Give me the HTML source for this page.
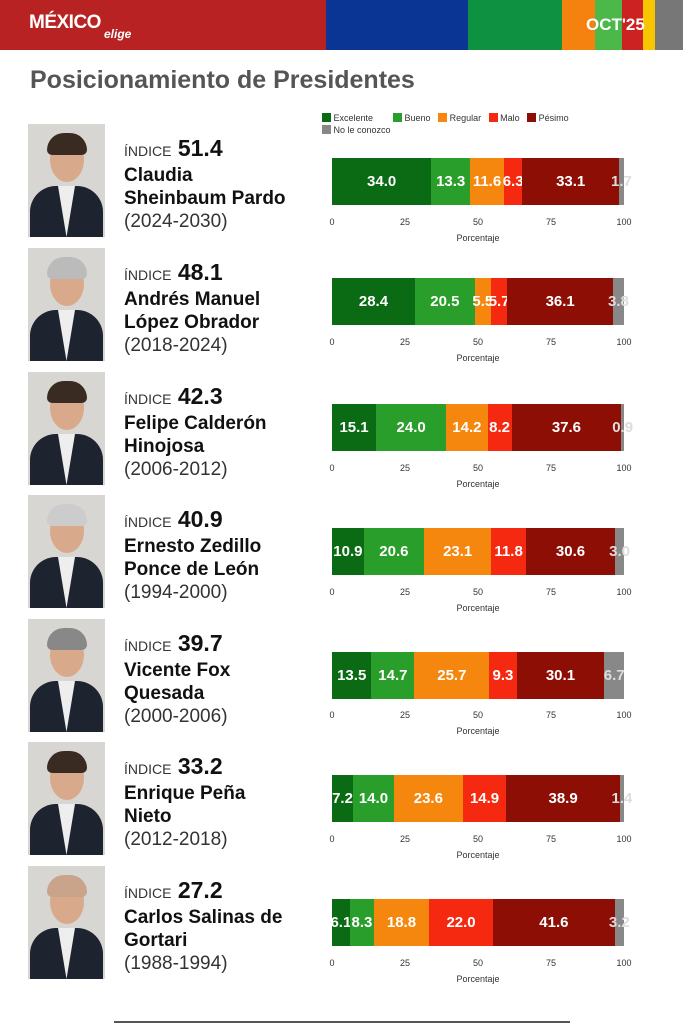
<!DOCTYPE html>
<html><head><meta charset="utf-8"><style>
*{margin:0;padding:0;box-sizing:border-box}
body{width:683px;height:1024px;background:#fff;font-family:"Liberation Sans",sans-serif;position:relative;overflow:hidden}
.hd{position:absolute;top:0;height:50px}
.row{position:absolute;left:0;width:683px;height:120px}
.ph{position:absolute;left:28px;top:0;width:77px;height:113px;background:#d8d6d2;overflow:hidden}
.ph .face{position:absolute;left:22px;top:14px;width:34px;height:44px;border-radius:50%;background:#d9a98c}
.ph .hair{position:absolute;left:19px;top:9px;width:40px;height:22px;border-radius:20px 20px 6px 6px;background:#3a2b22}
.ph .body{position:absolute;left:2px;top:62px;width:73px;height:60px;border-radius:26px 26px 0 0;background:#1e2330}
.ph .shirt{position:absolute;left:30px;top:62px;width:17px;height:51px;background:#eee;clip-path:polygon(0 0,100% 0,50% 100%)}
.tx{position:absolute;left:124px;top:12px;color:#111;font-weight:bold;font-size:19px;line-height:23px}
.tx .ix{font-size:23px;line-height:25px}
.tx .ix span{font-size:14px;font-weight:normal;color:#333}
.tx .yr{font-weight:normal;color:#333}
.bar{position:absolute;left:332px;width:292px;height:47px;display:flex}
.bar div{height:47px;display:flex;align-items:center;justify-content:center;color:#fff;font-weight:bold;font-size:15px;white-space:nowrap;overflow:visible}
.E{background:#0b6b14}.B{background:#2a9e2a}.R{background:#f5870f}.M{background:#f5290f}.P{background:#8c0e05}.N{background:#888;color:#ddd!important}
.ax{position:absolute;left:332px;width:292px;font-size:9px;color:#333}
.ax span{position:absolute;transform:translateX(-50%)}
.ax .pl{left:146px;top:16px}
</style></head><body>
<div class="hd" style="left:0;width:326px;background:#b82222"></div>
<div class="hd" style="left:326px;width:142px;background:#0a3594"></div>
<div class="hd" style="left:468px;width:94px;background:#0e9140"></div>
<div class="hd" style="left:562px;width:33px;background:#f5820e"></div>
<div class="hd" style="left:595px;width:27px;background:#4cb84a"></div>
<div class="hd" style="left:622px;width:21px;background:#cc2222"></div>
<div class="hd" style="left:643px;width:12px;background:#f7c600"></div>
<div class="hd" style="left:655px;width:28px;background:#777"></div>
<div style="position:absolute;left:29px;top:12px;color:#fff;font-weight:bold;font-size:19px;letter-spacing:-0.5px">MÉXICO</div>
<div style="position:absolute;left:104px;top:27px;color:#fff;font-style:italic;font-weight:bold;font-size:12px">elige</div>
<div style="position:absolute;left:586px;top:15px;color:#fff;font-weight:bold;font-size:17px">OCT'25</div>
<div style="position:absolute;left:30px;top:66px;color:#555;font-weight:bold;font-size:25px">Posicionamiento de Presidentes</div>

<div style="position:absolute;left:322px;top:112px;font-size:9px;color:#333;line-height:12px">
<span style="display:inline-block;width:9px;height:9px;background:#0b6b14;vertical-align:-1px"></span> Excelente &nbsp;&nbsp;&nbsp;&nbsp;&nbsp;&nbsp;
<span style="display:inline-block;width:9px;height:9px;background:#2a9e2a;vertical-align:-1px"></span> Bueno &nbsp;
<span style="display:inline-block;width:9px;height:9px;background:#f5870f;vertical-align:-1px"></span> Regular &nbsp;
<span style="display:inline-block;width:9px;height:9px;background:#f5290f;vertical-align:-1px"></span> Malo &nbsp;
<span style="display:inline-block;width:9px;height:9px;background:#8c0e05;vertical-align:-1px"></span> Pésimo<br>
<span style="display:inline-block;width:9px;height:9px;background:#888;vertical-align:-1px"></span> No le conozco</div>

<div class="row" style="top:124px">
<div class="ph"><div class="body"></div><div class="shirt"></div><div class="face"></div><div class="hair"></div></div>
<div class="tx"><div class="ix"><span>ÍNDICE</span> 51.4</div>Claudia<br>Sheinbaum Pardo<br><span class="yr">(2024-2030)</span></div>
<div class="bar" style="top:34px"><div class="E" style="width:34%">34.0</div><div class="B" style="width:13.3%">13.3</div><div class="R" style="width:11.6%">11.6</div><div class="M" style="width:6.3%">6.3</div><div class="P" style="width:33.1%">33.1</div><div class="N" style="width:1.7%">1.7</div></div>
<div class="ax" style="top:93px"><span style="left:0">0</span><span style="left:73px">25</span><span style="left:146px">50</span><span style="left:219px">75</span><span style="left:292px">100</span><span class="pl">Porcentaje</span></div>
</div>

<div class="row" style="top:248px">
<div class="ph"><div class="body"></div><div class="shirt"></div><div class="face"></div><div class="hair" style="background:#bbb"></div></div>
<div class="tx"><div class="ix"><span>ÍNDICE</span> 48.1</div>Andrés Manuel<br>López Obrador<br><span class="yr">(2018-2024)</span></div>
<div class="bar" style="top:30px"><div class="E" style="width:28.4%">28.4</div><div class="B" style="width:20.5%">20.5</div><div class="R" style="width:5.5%">5.5</div><div class="M" style="width:5.7%">5.7</div><div class="P" style="width:36.1%">36.1</div><div class="N" style="width:3.8%">3.8</div></div>
<div class="ax" style="top:89px"><span style="left:0">0</span><span style="left:73px">25</span><span style="left:146px">50</span><span style="left:219px">75</span><span style="left:292px">100</span><span class="pl">Porcentaje</span></div>
</div>

<div class="row" style="top:372px">
<div class="ph"><div class="body"></div><div class="shirt"></div><div class="face"></div><div class="hair"></div></div>
<div class="tx"><div class="ix"><span>ÍNDICE</span> 42.3</div>Felipe Calderón<br>Hinojosa<br><span class="yr">(2006-2012)</span></div>
<div class="bar" style="top:32px"><div class="E" style="width:15.1%">15.1</div><div class="B" style="width:24%">24.0</div><div class="R" style="width:14.2%">14.2</div><div class="M" style="width:8.2%">8.2</div><div class="P" style="width:37.6%">37.6</div><div class="N" style="width:0.9%">0.9</div></div>
<div class="ax" style="top:91px"><span style="left:0">0</span><span style="left:73px">25</span><span style="left:146px">50</span><span style="left:219px">75</span><span style="left:292px">100</span><span class="pl">Porcentaje</span></div>
</div>

<div class="row" style="top:495px">
<div class="ph"><div class="body"></div><div class="shirt"></div><div class="face"></div><div class="hair" style="background:#ccc"></div></div>
<div class="tx"><div class="ix"><span>ÍNDICE</span> 40.9</div>Ernesto Zedillo<br>Ponce de León<br><span class="yr">(1994-2000)</span></div>
<div class="bar" style="top:33px"><div class="E" style="width:10.9%">10.9</div><div class="B" style="width:20.6%">20.6</div><div class="R" style="width:23.1%">23.1</div><div class="M" style="width:11.8%">11.8</div><div class="P" style="width:30.6%">30.6</div><div class="N" style="width:3%">3.0</div></div>
<div class="ax" style="top:92px"><span style="left:0">0</span><span style="left:73px">25</span><span style="left:146px">50</span><span style="left:219px">75</span><span style="left:292px">100</span><span class="pl">Porcentaje</span></div>
</div>

<div class="row" style="top:619px">
<div class="ph"><div class="body"></div><div class="shirt"></div><div class="face"></div><div class="hair" style="background:#888"></div></div>
<div class="tx"><div class="ix"><span>ÍNDICE</span> 39.7</div>Vicente Fox<br>Quesada<br><span class="yr">(2000-2006)</span></div>
<div class="bar" style="top:33px"><div class="E" style="width:13.5%">13.5</div><div class="B" style="width:14.7%">14.7</div><div class="R" style="width:25.7%">25.7</div><div class="M" style="width:9.3%">9.3</div><div class="P" style="width:30.1%">30.1</div><div class="N" style="width:6.7%;color:#eee">6.7</div></div>
<div class="ax" style="top:91px"><span style="left:0">0</span><span style="left:73px">25</span><span style="left:146px">50</span><span style="left:219px">75</span><span style="left:292px">100</span><span class="pl">Porcentaje</span></div>
</div>

<div class="row" style="top:742px">
<div class="ph"><div class="body"></div><div class="shirt"></div><div class="face"></div><div class="hair"></div></div>
<div class="tx"><div class="ix"><span>ÍNDICE</span> 33.2</div>Enrique Peña<br>Nieto<br><span class="yr">(2012-2018)</span></div>
<div class="bar" style="top:33px"><div class="E" style="width:7.2%">7.2</div><div class="B" style="width:14%">14.0</div><div class="R" style="width:23.6%">23.6</div><div class="M" style="width:14.9%">14.9</div><div class="P" style="width:38.9%">38.9</div><div class="N" style="width:1.4%">1.4</div></div>
<div class="ax" style="top:92px"><span style="left:0">0</span><span style="left:73px">25</span><span style="left:146px">50</span><span style="left:219px">75</span><span style="left:292px">100</span><span class="pl">Porcentaje</span></div>
</div>

<div class="row" style="top:866px">
<div class="ph"><div class="body"></div><div class="shirt"></div><div class="face"></div><div class="hair" style="background:#c9a38a"></div></div>
<div class="tx"><div class="ix"><span>ÍNDICE</span> 27.2</div>Carlos Salinas de<br>Gortari<br><span class="yr">(1988-1994)</span></div>
<div class="bar" style="top:33px"><div class="E" style="width:6.1%">6.1</div><div class="B" style="width:8.3%">8.3</div><div class="R" style="width:18.8%">18.8</div><div class="M" style="width:22%">22.0</div><div class="P" style="width:41.6%">41.6</div><div class="N" style="width:3.2%">3.2</div></div>
<div class="ax" style="top:92px"><span style="left:0">0</span><span style="left:73px">25</span><span style="left:146px">50</span><span style="left:219px">75</span><span style="left:292px">100</span><span class="pl">Porcentaje</span></div>
</div>

<div style="position:absolute;left:114px;top:1021px;width:456px;height:2px;background:#555"></div>
</body></html>
